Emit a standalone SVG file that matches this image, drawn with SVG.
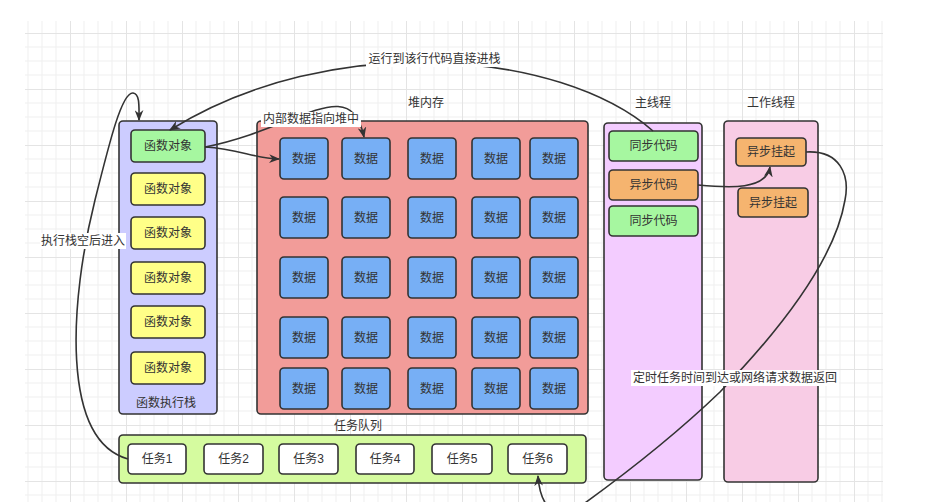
<svg xmlns="http://www.w3.org/2000/svg" width="937" height="502" viewBox="0 0 937 502">
<defs>
<pattern id="grid" x="14" y="33" width="56" height="56" patternUnits="userSpaceOnUse">
<path d="M14,0V56M28,0V56M42,0V56M0,14H56M0,28H56M0,42H56" stroke="#efefef" stroke-width="1" fill="none"/>
<path d="M0.5,0V56M0,0.5H56" stroke="#e4e4e4" stroke-width="1" fill="none"/>
</pattern>
<marker id="arr" viewBox="0 0 10 8" refX="9" refY="4" markerWidth="11" markerHeight="9" markerUnits="userSpaceOnUse" orient="auto">
<path d="M0,0 L10,4 L0,8 L3,4 z" fill="#333"/>
</marker>
</defs>
<style>
text{font-family:"Liberation Sans","Noto Sans CJK SC",sans-serif;font-size:12px;fill:#333;text-anchor:middle;dominant-baseline:central}
.box{stroke:#333;stroke-width:1.6}
.fo{fill:#ffff88}
.fg{fill:#a6f7a0}
.data{fill:#77aff5}
.org{fill:#f5b46f}
.task{fill:#ffffff}
.edge{fill:none;stroke:#333;stroke-width:1.6}
.lbg{fill:#ffffff}
</style>
<rect width="937" height="502" fill="#ffffff"/>
<rect x="25" y="21" width="858" height="481" fill="url(#grid)"/>

<g id="stack">
<rect class="box" x="119" y="121" width="98" height="293" rx="4" fill="#ccccff"/>
<text x="166" y="403">函数执行栈</text>
</g>
<g id="fo1"><rect class="box fg" x="131" y="130" width="74" height="32" rx="4"/><text x="168" y="146">函数对象</text></g>
<g id="fo2"><rect class="box fo" x="131" y="173" width="74" height="32" rx="4"/><text x="168" y="189">函数对象</text></g>
<g id="fo3"><rect class="box fo" x="131" y="217" width="74" height="32" rx="4"/><text x="168" y="233">函数对象</text></g>
<g id="fo4"><rect class="box fo" x="131" y="262" width="74" height="32" rx="4"/><text x="168" y="278">函数对象</text></g>
<g id="fo5"><rect class="box fo" x="131" y="306" width="74" height="32" rx="4"/><text x="168" y="322">函数对象</text></g>
<g id="fo6"><rect class="box fo" x="131" y="352" width="74" height="32" rx="4"/><text x="168" y="368">函数对象</text></g>

<g id="heap">
<rect class="box" x="257" y="121" width="331" height="293" rx="4" fill="#f29c99"/>
<text x="426" y="103">堆内存</text>
</g>
<g id="data">
<g id="d11"><rect class="box data" x="280" y="138" width="48" height="41" rx="4"/><text x="304" y="158.5">数据</text></g>
<g id="d12"><rect class="box data" x="342" y="138" width="48" height="41" rx="4"/><text x="366" y="158.5">数据</text></g>
<g id="d13"><rect class="box data" x="408" y="138" width="48" height="41" rx="4"/><text x="432" y="158.5">数据</text></g>
<g id="d14"><rect class="box data" x="472" y="138" width="48" height="41" rx="4"/><text x="496" y="158.5">数据</text></g>
<g id="d15"><rect class="box data" x="530" y="138" width="48" height="41" rx="4"/><text x="554" y="158.5">数据</text></g>
<g id="d21"><rect class="box data" x="280" y="197" width="48" height="41" rx="4"/><text x="304" y="217.5">数据</text></g>
<g id="d22"><rect class="box data" x="342" y="197" width="48" height="41" rx="4"/><text x="366" y="217.5">数据</text></g>
<g id="d23"><rect class="box data" x="408" y="197" width="48" height="41" rx="4"/><text x="432" y="217.5">数据</text></g>
<g id="d24"><rect class="box data" x="472" y="197" width="48" height="41" rx="4"/><text x="496" y="217.5">数据</text></g>
<g id="d25"><rect class="box data" x="530" y="197" width="48" height="41" rx="4"/><text x="554" y="217.5">数据</text></g>
<g id="d31"><rect class="box data" x="280" y="257" width="48" height="41" rx="4"/><text x="304" y="277.5">数据</text></g>
<g id="d32"><rect class="box data" x="342" y="257" width="48" height="41" rx="4"/><text x="366" y="277.5">数据</text></g>
<g id="d33"><rect class="box data" x="408" y="257" width="48" height="41" rx="4"/><text x="432" y="277.5">数据</text></g>
<g id="d34"><rect class="box data" x="472" y="257" width="48" height="41" rx="4"/><text x="496" y="277.5">数据</text></g>
<g id="d35"><rect class="box data" x="530" y="257" width="48" height="41" rx="4"/><text x="554" y="277.5">数据</text></g>
<g id="d41"><rect class="box data" x="280" y="317" width="48" height="41" rx="4"/><text x="304" y="337.5">数据</text></g>
<g id="d42"><rect class="box data" x="342" y="317" width="48" height="41" rx="4"/><text x="366" y="337.5">数据</text></g>
<g id="d43"><rect class="box data" x="408" y="317" width="48" height="41" rx="4"/><text x="432" y="337.5">数据</text></g>
<g id="d44"><rect class="box data" x="472" y="317" width="48" height="41" rx="4"/><text x="496" y="337.5">数据</text></g>
<g id="d45"><rect class="box data" x="530" y="317" width="48" height="41" rx="4"/><text x="554" y="337.5">数据</text></g>
<g id="d51"><rect class="box data" x="280" y="368" width="48" height="41" rx="4"/><text x="304" y="388.5">数据</text></g>
<g id="d52"><rect class="box data" x="342" y="368" width="48" height="41" rx="4"/><text x="366" y="388.5">数据</text></g>
<g id="d53"><rect class="box data" x="408" y="368" width="48" height="41" rx="4"/><text x="432" y="388.5">数据</text></g>
<g id="d54"><rect class="box data" x="472" y="368" width="48" height="41" rx="4"/><text x="496" y="388.5">数据</text></g>
<g id="d55"><rect class="box data" x="530" y="368" width="48" height="41" rx="4"/><text x="554" y="388.5">数据</text></g>
</g>

<g id="main">
<rect class="box" x="604" y="123" width="98" height="357" rx="4" fill="#f3ccff"/>
<text x="653" y="103">主线程</text>
</g>
<g id="sync1"><rect class="box fg" x="609" y="131" width="89" height="30" rx="4"/><text x="653.5" y="146">同步代码</text></g>
<g id="async1"><rect class="box org" x="609" y="170" width="89" height="30" rx="4"/><text x="653.5" y="185">异步代码</text></g>
<g id="sync2"><rect class="box fg" x="609" y="206" width="89" height="30" rx="4"/><text x="653.5" y="221">同步代码</text></g>

<g id="worker">
<rect class="box" x="724" y="121" width="94" height="361" rx="4" fill="#f8cce5"/>
<text x="771" y="103">工作线程</text>
</g>
<g id="pend1"><rect class="box org" x="736" y="138" width="70" height="28" rx="4"/><text x="771" y="152">异步挂起</text></g>
<g id="pend2"><rect class="box org" x="738" y="188" width="70" height="29" rx="4"/><text x="773" y="202.5">异步挂起</text></g>

<g id="queue">
<rect class="box" x="119" y="435" width="467" height="48" rx="4" fill="#d5fb9f"/>
<text x="358" y="426">任务队列</text>
</g>
<g id="t1"><rect class="box task" x="128" y="444" width="58" height="30" rx="4"/><text x="157" y="459">任务1</text></g>
<g id="t2"><rect class="box task" x="204" y="444" width="59" height="30" rx="4"/><text x="233.5" y="459">任务2</text></g>
<g id="t3"><rect class="box task" x="279" y="444" width="59" height="30" rx="4"/><text x="308.5" y="459">任务3</text></g>
<g id="t4"><rect class="box task" x="356" y="444" width="58" height="30" rx="4"/><text x="385" y="459">任务4</text></g>
<g id="t5"><rect class="box task" x="432" y="444" width="60" height="30" rx="4"/><text x="462" y="459">任务5</text></g>
<g id="t6"><rect class="box task" x="508" y="444" width="59" height="30" rx="4"/><text x="537.5" y="459">任务6</text></g>

<g id="connectors">
<path class="edge" d="M205,147 C240,149 252,158 279,159" marker-end="url(#arr)"/>
<path class="edge" d="M205,147 C300,128 350,72 364,137" marker-end="url(#arr)"/>
<path class="edge" d="M653,131 C560,50 330,30 170,130" marker-end="url(#arr)"/>
<path class="edge" d="M128,459 C60,440 70,300 95,200 C110,140 122,92 133,93 C140,94 139,106 139,120" marker-end="url(#arr)"/>
<path class="edge" d="M698,185 C730,188 766,190 770,167" marker-end="url(#arr)"/>
<path class="edge" d="M806,152 C840,150 850,175 845,200 C835,260 780,330 720,392 C670,440 610,485 578,508 C555,524 540,505 538,476" marker-end="url(#arr)"/>
<rect class="lbg" x="261" y="112" width="100" height="15"/>
<text x="311" y="119">内部数据指向堆中</text>
<rect class="lbg" x="366" y="51" width="137" height="16"/>
<text x="434.5" y="59">运行到该行代码直接进栈</text>
<rect class="lbg" x="40" y="233" width="86" height="16"/>
<text x="83" y="241">执行栈空后进入</text>
<rect class="lbg" x="631" y="370" width="208" height="16"/>
<text x="735" y="378">定时任务时间到达或网络请求数据返回</text>
</g>
</svg>
